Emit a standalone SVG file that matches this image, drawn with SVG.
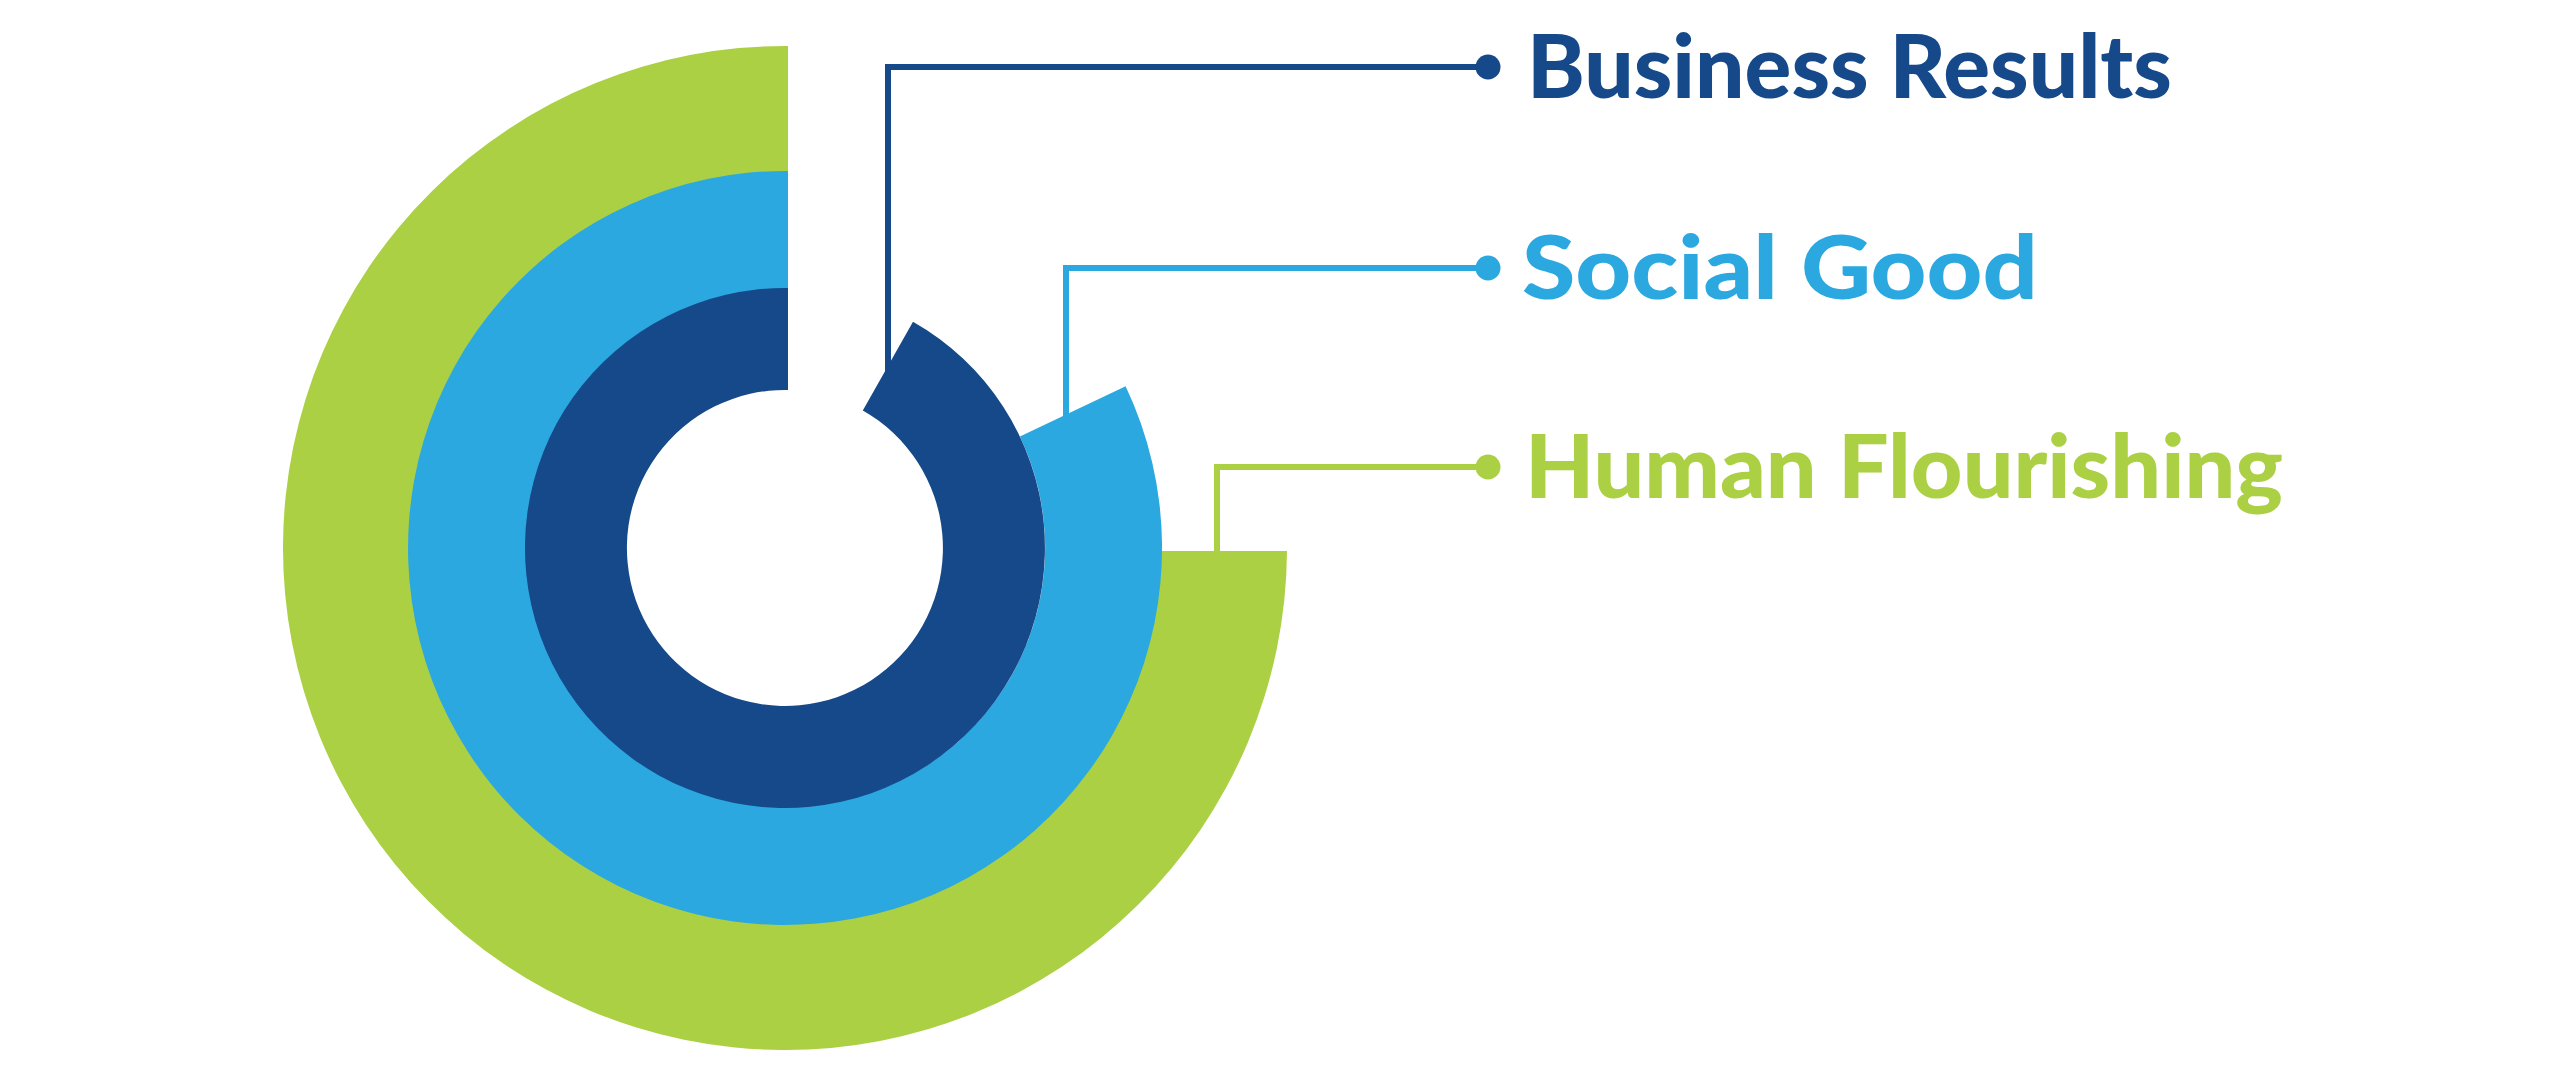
<svg xmlns="http://www.w3.org/2000/svg" width="2560" height="1066" viewBox="0 0 2560 1066">
<style>
.bg{fill:#ffffff}
.dark{fill:#15498A}
.blue{fill:#2CA8E0}
.green{fill:#ABD044}
.conn{fill:none;stroke-width:6;stroke-linejoin:miter;stroke-linecap:butt}
.c-dark{stroke:#15498A}
.c-blue{stroke:#2CA8E0}
.c-green{stroke:#ABD044}
.lbl{font-family:"Lato","Liberation Sans",sans-serif;font-weight:900;font-size:87px}
</style>
<rect class="bg" x="0" y="0" width="2560" height="1066"/>
<g id="connectors">
  <path class="conn c-dark" d="M 888 380 V 67 H 1488"/>
  <circle class="dark" cx="1488" cy="67" r="12.5"/>
  <path class="conn c-blue" d="M 1066 420 V 268 H 1488"/>
  <circle class="blue" cx="1488" cy="268" r="12.5"/>
  <path class="conn c-green" d="M 1217 556 V 467 H 1488"/>
  <circle class="green" cx="1488" cy="467" r="12.5"/>
</g>
<g id="node-human-flourishing">
  <path class="green" d="M 788 46 A 502 502 0 1 0 1287 551 L 1161 551 A 376 376 0 1 1 788 172 Z"/>
  <text class="lbl green" x="1525" y="498" textLength="758" lengthAdjust="spacingAndGlyphs">Human Flourishing</text>
</g>
<g id="node-social-good">
  <path class="blue" d="M 788 171 A 377 377 0 1 0 1125.6 386.3 L 1019.9 436.5 A 259 259 0 1 1 788 289 Z"/>
  <text class="lbl blue" x="1522" y="299" textLength="516" lengthAdjust="spacingAndGlyphs">Social Good</text>
</g>
<g id="node-business-results">
  <path class="dark" d="M 788 288 A 260 260 0 1 0 913 321.7 L 862.8 410.5 A 158 158 0 1 1 788 390 Z"/>
  <text class="lbl dark" x="1527" y="98" textLength="645" lengthAdjust="spacingAndGlyphs">Business Results</text>
</g>
</svg>
